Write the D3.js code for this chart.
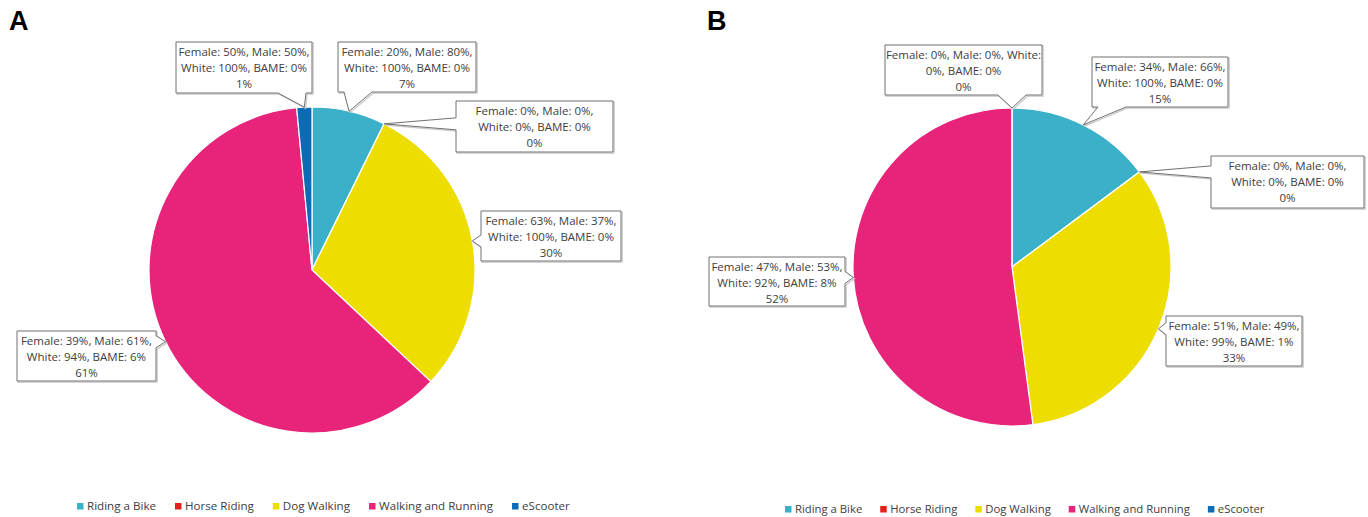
<!DOCTYPE html>
<html>
<head>
<meta charset="utf-8">
<script src="https://cdn.jsdelivr.net/npm/d3@7"></script>
<style>
  body { margin: 0; background: #fff; }
  svg { display: block; font-family: "Open Sans", sans-serif; }
</style>
</head>
<body>
<div id="chart"></div>
<script>
// categories and colours (shared by both pies)
var categories = ["Riding a Bike", "Horse Riding", "Dog Walking", "Walking and Running", "eScooter"];
var colors = ["#3BB0C9", "#E0211C", "#EEDD00", "#E8237A", "#0B6BB6"];

// panel A values (%) and label texts
var valuesA = [7.3, 0, 29.7, 61.5, 1.5];
var textA = [
  ["Female: 20%, Male: 80%,", "White: 100%, BAME: 0%", "7%"],
  ["Female: 0%, Male: 0%,", "White: 0%, BAME: 0%", "0%"],
  ["Female: 63%, Male: 37%,", "White: 100%, BAME: 0%", "30%"],
  ["Female: 39%, Male: 61%,", "White: 94%, BAME: 6%", "61%"],
  ["Female: 50%, Male: 50%,", "White: 100%, BAME: 0%", "1%"]
];

// panel B values (%) and label texts
var valuesB = [14.8, 0, 33.1, 52.1, 0];
var textB = [
  ["Female: 34%, Male: 66%,", "White: 100%, BAME: 0%", "15%"],
  ["Female: 0%, Male: 0%,", "White: 0%, BAME: 0%", "0%"],
  ["Female: 51%, Male: 49%,", "White: 99%, BAME: 1%", "33%"],
  ["Female: 47%, Male: 53%,", "White: 92%, BAME: 8%", "52%"],
  ["Female: 0%, Male: 0%, White:", "0%, BAME: 0%", "0%"]
];

// layout of the two panels
var panels = [
  { letter: "A", lx: 9, cx: 312, cy: 270, r: 163, values: valuesA, text: textA,
    legendX: 77, legendY: 506, legendFont: 11.6, legendGap: 19,
    boxes: [[338, 42, 138, 50], [456, 101, 157, 51], [481, 211, 140, 50], [17, 331, 139, 50], [176, 42, 136, 51]] },
  { letter: "B", lx: 707, cx: 1012, cy: 267, r: 159, values: valuesB, text: textB,
    legendX: 785, legendY: 509, legendFont: 11.3, legendGap: 18,
    boxes: [[1092, 57, 136, 50], [1211, 156, 153, 52], [1166, 316, 136, 50], [709, 257, 136, 49], [885, 45, 157, 50]] }
];

var width = 1368, height = 517;

var svg = d3.select("#chart")
  .append("svg")
  .attr("width", width)
  .attr("height", height);

var pie = d3.pie().sort(null).value(function(d) { return d; });

function clamp(v, a, b) { return Math.max(a, Math.min(b, v)); }

// callout outline: rectangle with a pointer to (ax, ay)
function calloutPath(b, ax, ay) {
  var x = b[0], y = b[1], w = b[2], h = b[3];
  var p = [[x, y]];
  if (ay < y) {
    var c = clamp(ax, x + 20, x + w - 20);
    p.push([c - 14, y], [ax, ay], [c + 14, y]);
  }
  p.push([x + w, y]);
  if (ax > x + w && ay >= y && ay <= y + h + 10) {
    var c2 = clamp(ay, y + 10, y + h - 10);
    p.push([x + w, c2 - 6], [ax, ay], [x + w, c2 + 6]);
  }
  p.push([x + w, y + h]);
  if (ay > y + h) {
    var c3 = clamp(ax, x + 20, x + w - 20);
    p.push([c3 + 14, y + h], [ax, ay], [c3 - 14, y + h]);
  }
  p.push([x, y + h]);
  if (ax < x && ay >= y && ay <= y + h + 10) {
    var c4 = clamp(ay, y + 10, y + h - 10);
    p.push([x, c4 + 6], [ax, ay], [x, c4 - 6]);
  }
  return "M" + p.map(function(q) { return q[0] + "," + q[1]; }).join("L") + "Z";
}

panels.forEach(function(pn) {
  var arcs = pie(pn.values);
  var arc = d3.arc().innerRadius(0).outerRadius(pn.r);

  // panel letter
  svg.append("text")
    .attr("x", pn.lx)
    .attr("y", 30)
    .style("font-family", "'Liberation Sans', Arial, sans-serif")
    .style("font-size", "27px")
    .style("font-weight", "bold")
    .style("fill", "#000")
    .text(pn.letter);

  var g = svg.append("g")
    .attr("transform", "translate(" + pn.cx + "," + pn.cy + ")");

  // slices
  g.selectAll(".slice")
    .data(arcs)
    .enter().append("path")
    .attr("class", "slice")
    .attr("d", arc)
    .attr("fill", function(d, i) { return colors[i]; })
    .attr("stroke", "#fff")
    .attr("stroke-width", 1.2);

  // callouts
  arcs.forEach(function(d, i) {
    var mid = (d.startAngle + d.endAngle) / 2;
    var ax = pn.cx + pn.r * Math.sin(mid);
    var ay = pn.cy - pn.r * Math.cos(mid);
    var b = pn.boxes[i];
    var path = calloutPath(b, ax, ay);

    svg.append("path")
      .attr("d", path)
      .attr("transform", "translate(1.2,1.2)")
      .attr("fill", "none")
      .attr("stroke", "#c8c8c8")
      .attr("stroke-width", 1.2);

    svg.append("path")
      .attr("d", path)
      .attr("fill", "#fff")
      .attr("stroke", "#707070")
      .attr("stroke-width", 1);

    pn.text[i].forEach(function(line, k) {
      svg.append("text")
        .attr("x", b[0] + b[2] / 2)
        .attr("y", b[1] + 9.5 + k * 16)
        .attr("dy", "0.35em")
        .attr("text-anchor", "middle")
        .style("font-size", "11.5px")
        .style("fill", "#404040")
        .text(line);
    });
  });

  // legend
  var lx = pn.legendX;
  categories.forEach(function(c, i) {
    svg.append("rect")
      .attr("x", lx)
      .attr("y", pn.legendY - 3)
      .attr("width", 6.5)
      .attr("height", 6.5)
      .attr("fill", colors[i]);
    var t = svg.append("text")
      .attr("x", lx + 10)
      .attr("y", pn.legendY)
      .attr("dy", "0.35em")
      .style("font-size", pn.legendFont + "px")
      .style("fill", "#404040")
      .text(c);
    lx += 10 + t.node().getComputedTextLength() + pn.legendGap;
  });
});
</script>
</body>
</html>
